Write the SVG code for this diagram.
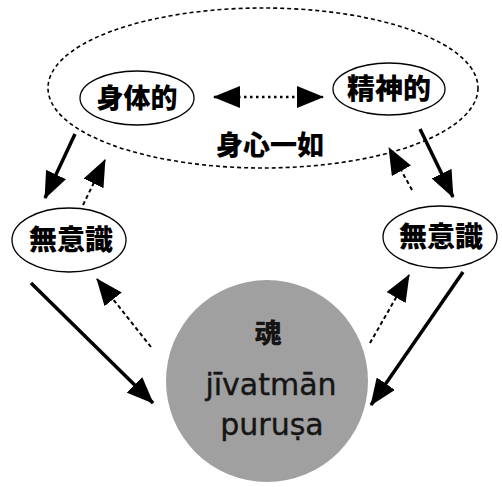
<svg xmlns="http://www.w3.org/2000/svg" width="502" height="487" viewBox="0 0 502 487">
<style>
.node{fill:#fff;stroke:#000;stroke-width:1.3}
.lbl{font-family:"Noto Sans CJK JP","Noto Sans CJK SC",sans-serif;font-weight:900;font-size:27px;fill:#000;text-anchor:middle}
.solid{stroke:#000;stroke-width:3.5;fill:none;marker-end:url(#ah)}
.dash{stroke:#000;stroke-width:2;stroke-dasharray:4 3;fill:none;marker-end:url(#ah)}
.lat{font-family:"DejaVu Sans",sans-serif;font-size:30px;fill:#151515;stroke:#151515;stroke-width:0.4;text-anchor:middle}
</style>
<defs>
<marker id="ah" markerUnits="userSpaceOnUse" markerWidth="27" markerHeight="22" refX="26" refY="11" orient="auto-start-reverse" viewBox="0 0 27 22">
<path d="M0,0 L27,11 L0,22 z" fill="#000"/>
</marker>
</defs>
<g id="whole">
<ellipse cx="263" cy="88" rx="215" ry="80" fill="none" stroke="#000" stroke-width="1.6" stroke-dasharray="4 3"/>
<text class="lbl" x="270" y="155">身心一如</text>
</g>
<g id="soul">
<circle cx="267" cy="381" r="101" fill="#a0a0a0"/>
<text class="lbl" x="268" y="343" style="font-size:27px;fill:#151515">魂</text>
<text class="lat" x="271" y="395">jīvatmān</text>
<text class="lat" x="272" y="435">puruṣa</text>
</g>
<g id="body">
<ellipse class="node" cx="137" cy="98" rx="57" ry="27"/>
<text class="lbl" x="137" y="108">身体的</text>
</g>
<g id="mind">
<ellipse class="node" cx="389" cy="89" rx="56" ry="26"/>
<text class="lbl" x="389" y="99" style="font-size:28px">精神的</text>
</g>
<g id="uncon-left">
<ellipse class="node" cx="69" cy="240" rx="57" ry="32"/>
<text class="lbl" x="71" y="250" style="font-size:28px">無意識</text>
</g>
<g id="uncon-right">
<ellipse class="node" cx="440" cy="237" rx="57" ry="31"/>
<text class="lbl" x="441" y="247" style="font-size:28px">無意識</text>
</g>
<g id="connectors">
<line x1="214" y1="97" x2="323" y2="97" stroke="#000" stroke-width="2.5" stroke-dasharray="2.5 3.5" marker-start="url(#ah)" marker-end="url(#ah)"/>
<line class="solid" x1="75" y1="134" x2="45" y2="198"/>
<line class="dash" x1="83" y1="205" x2="105" y2="160"/>
<line class="solid" x1="31" y1="283" x2="153" y2="403"/>
<line class="dash" x1="151" y1="347" x2="97" y2="279"/>
<line class="solid" x1="420" y1="129" x2="453" y2="197"/>
<line class="dash" x1="412" y1="190" x2="389" y2="148"/>
<line class="dash" x1="370" y1="343" x2="409" y2="275"/>
<line class="solid" x1="463" y1="272" x2="371" y2="405"/>
</g>
</svg>
